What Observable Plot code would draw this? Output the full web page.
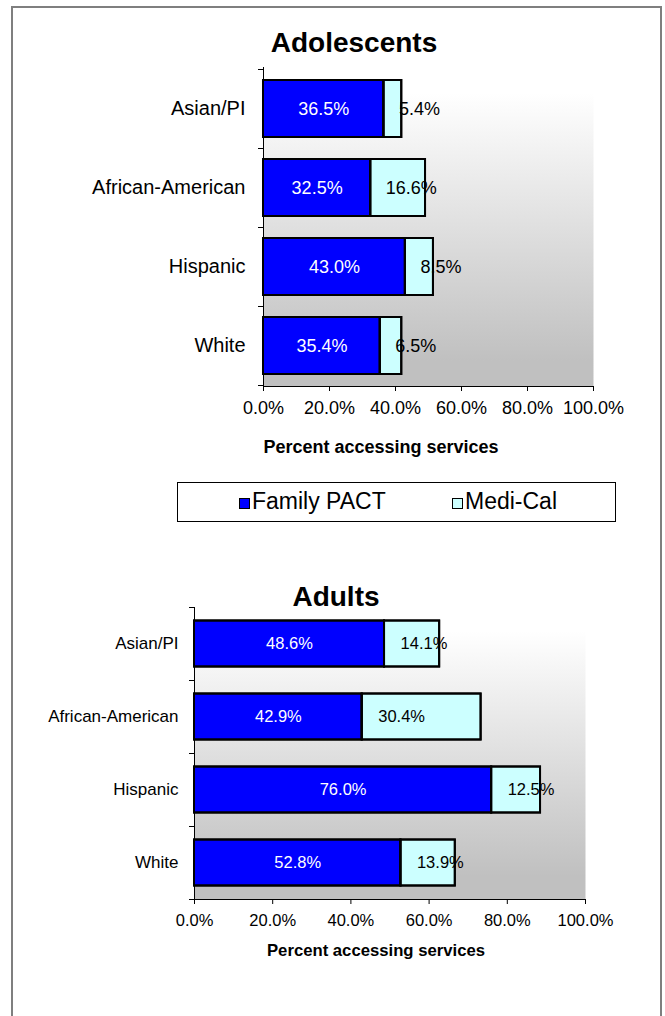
<!DOCTYPE html>
<html><head><meta charset="utf-8">
<script src="https://cdn.jsdelivr.net/npm/d3@7"></script>
<script src="https://cdn.jsdelivr.net/npm/@observablehq/plot@0.6"></script>
<style>
body{margin:0;background:#fff;font-family:"Liberation Sans",Arial,sans-serif;}
#page{position:relative;width:665px;height:1016px;overflow:hidden;background:#fff;}
.abs{position:absolute;white-space:nowrap;color:#000;}
.chart{position:absolute;left:0;}
</style></head><body><div id="page"></div>
<script>
const categories = ["Asian/PI", "African-American", "Hispanic", "White"];
const seriesNames = ["Family PACT", "Medi-Cal"];
const adolescentFamilyPACT = [36.5, 32.5, 43.0, 35.4];
const adolescentMediCal = [5.4, 16.6, 8.5, 6.5];
const adultFamilyPACT = [48.6, 42.9, 76.0, 52.8];
const adultMediCal = [14.1, 30.4, 12.5, 13.9];
const xTicks = [0, 20, 40, 60, 80, 100];
const seriesColors = ["#0000ff", "#ccffff"];
const axisTitle = "Percent accessing services";

const FONT = '"Liberation Sans", Arial, Helvetica, sans-serif';
const fmt = v => v.toFixed(1) + "%";
const page = document.getElementById("page");

function addDiv(html, css) {
  const d = document.createElement("div");
  d.className = "abs";
  d.innerHTML = html;
  Object.assign(d.style, css);
  page.appendChild(d);
  return d;
}

function makeChart(o) {
  const rows = categories.flatMap((c, i) => [
    {cat: c, series: seriesNames[0], value: o.fam[i]},
    {cat: c, series: seriesNames[1], value: o.med[i]}
  ]);
  const defsMark = () => {
    const defs = d3.create("svg:defs");
    const lg = defs.append("linearGradient").attr("id", o.gradId)
      .attr("x1", 0).attr("y1", 0).attr("x2", 0).attr("y2", 1);
    [[0, "#ffffff"], [0.08, "#ffffff"], [0.92, "#c0c0c0"], [1, "#c0c0c0"]]
      .forEach(([off, col]) => lg.append("stop").attr("offset", off).attr("stop-color", col));
    return defs.node();
  };
  const axesMark = (index, scales, values, dims) => {
    const g = d3.create("svg:g").attr("stroke", "#000").attr("stroke-width", 1).attr("shape-rendering", "crispEdges");
    const left = dims.marginLeft, right = dims.width - dims.marginRight;
    const top = dims.marginTop, bottom = dims.height - dims.marginBottom;
    const y = scales.y;
    const bw = y.bandwidth ? y.bandwidth() : (bottom - top) / categories.length;
    const bounds = categories.map(c => y(c)).concat([y(categories[categories.length - 1]) + bw]);
    g.append("line").attr("x1", left).attr("x2", left).attr("y1", top).attr("y2", bottom);
    g.append("line").attr("x1", left).attr("x2", right).attr("y1", bottom).attr("y2", bottom);
    for (const b of bounds) g.append("line").attr("x1", left - 5).attr("x2", left).attr("y1", b).attr("y2", b);
    return g.node();
  };
  const svg = Plot.plot({
    width: 665,
    height: o.height,
    marginLeft: o.marginLeft,
    marginRight: o.marginRight,
    marginTop: o.marginTop,
    marginBottom: o.marginBottom,
    x: {domain: [0, 100]},
    y: {type: "band", domain: categories, padding: 0},
    color: {domain: seriesNames, range: seriesColors},
    style: {fontFamily: FONT, color: "#000", background: "transparent", overflow: "visible"},
    marks: [
      defsMark,
      Plot.frame({fill: `url(#${o.gradId})`, stroke: "none"}),
      Plot.barX(rows, Plot.stackX({x: "value", y: "cat", fill: "series", insetTop: o.inset, insetBottom: o.inset, stroke: "#000", strokeWidth: 2})),
      Plot.text(categories, {x: (d, i) => o.fam[i] / 2, y: d => d, text: (d, i) => fmt(o.fam[i]), fill: "#fff", fontSize: o.labelFont}),
      Plot.text(categories, {x: (d, i) => o.fam[i], y: d => d, text: (d, i) => fmt(o.med[i]), fill: "#000", fontSize: o.labelFont, textAnchor: "start", dx: o.medDx}),
      Plot.barX(rows, Plot.stackX({x: "value", y: "cat", fill: "none", insetTop: o.inset, insetBottom: o.inset, stroke: "#000", strokeWidth: 2})),
      Plot.axisX({ticks: xTicks, tickFormat: d => d.toFixed(1) + "%", tickSize: 5, tickPadding: o.tickPadX, fontSize: o.tickFont, label: null}),
      Plot.axisY({tickSize: 0, tickPadding: o.padY, fontSize: o.catFont, label: null}),
      axesMark
    ]
  });
  svg.classList.add("chart");
  svg.style.top = o.top + "px";
  svg.style.position = "absolute";
  svg.style.left = "0px";
  page.appendChild(svg);
}

// outer frame
addDiv("", {left: "11px", top: "6px", width: "647px", height: "1100px", border: "2px solid #7f7f7f"});

// Adolescents
addDiv("Adolescents", {left: "154px", width: "400px", textAlign: "center", top: "29px", fontSize: "28px", lineHeight: "28px", fontWeight: "bold"});
makeChart({fam: adolescentFamilyPACT, med: adolescentMediCal, gradId: "bgAdol", top: 60, height: 370,
  marginLeft: 263, marginRight: 72, marginTop: 7, marginBottom: 44, inset: 11,
  catFont: 20, tickFont: 18, labelFont: 18, medDx: 15, tickPadX: 10, padY: 18});
addDiv(axisTitle, {left: "181px", width: "400px", textAlign: "center", top: "438px", fontSize: "18px", lineHeight: "18px", fontWeight: "bold"});

// legend
addDiv("", {left: "177px", top: "482px", width: "437px", height: "38px", border: "1px solid #000", background: "#fff"});
addDiv("", {left: "239px", top: "498px", width: "9px", height: "9px", border: "1.5px solid #000", background: seriesColors[0]});
addDiv(seriesNames[0], {left: "252px", top: "490px", fontSize: "23px", lineHeight: "23px"});
addDiv("", {left: "452px", top: "498px", width: "9px", height: "9px", border: "1.5px solid #000", background: seriesColors[1]});
addDiv(seriesNames[1], {left: "465px", top: "490px", fontSize: "23px", lineHeight: "23px"});

// Adults
addDiv("Adults", {left: "136px", width: "400px", textAlign: "center", top: "583px", fontSize: "28px", lineHeight: "28px", fontWeight: "bold"});
makeChart({fam: adultFamilyPACT, med: adultMediCal, gradId: "bgAdult", top: 600, height: 340,
  marginLeft: 194, marginRight: 80, marginTop: 7, marginBottom: 41, inset: 13.5,
  catFont: 17, tickFont: 16.5, labelFont: 16.5, medDx: 16, tickPadX: 10, padY: 16});
addDiv(axisTitle, {left: "176px", width: "400px", textAlign: "center", top: "942px", fontSize: "16.7px", lineHeight: "17px", fontWeight: "bold"});
</script></body></html>
